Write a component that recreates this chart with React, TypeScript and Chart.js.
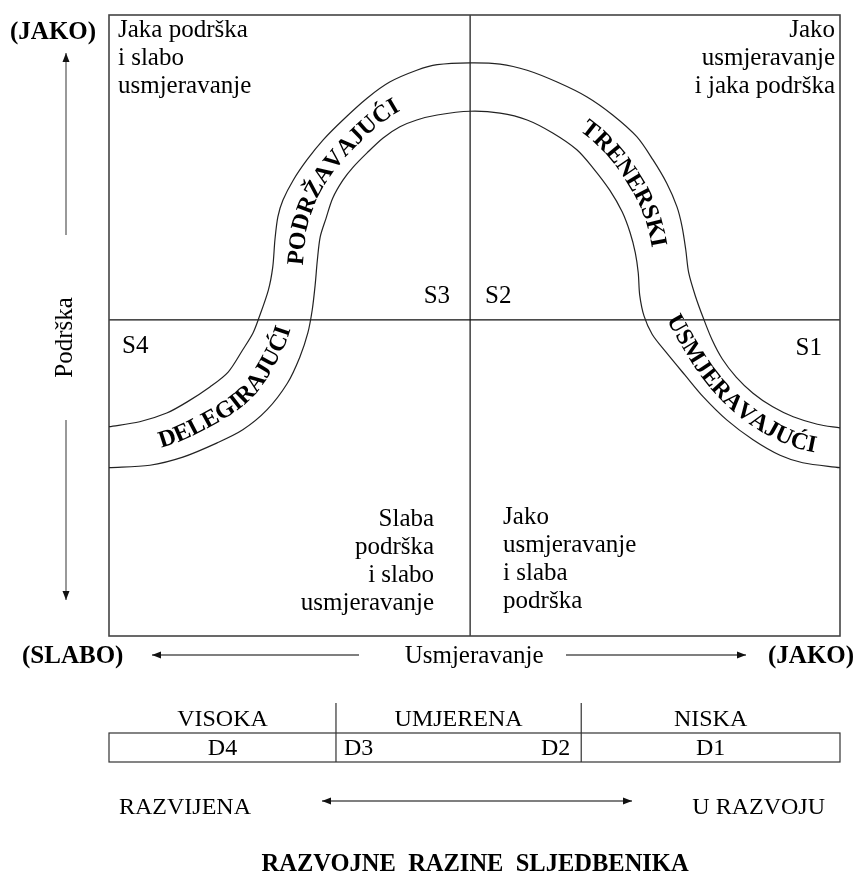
import React, { useEffect, useRef } from "react";
import { Chart, registerables } from "chart.js";
Chart.register(...registerables);

// Data space: x = Usmjeravanje (0..100), y = Podrška (0..100)
const OUTER_X = [0, 4.2, 7.9, 10.7, 13.8, 16.3, 18.3, 19.7, 20.5, 21.8, 22.4, 22.7, 23.1, 23.8, 25.2, 27.1, 29.3, 32.0, 35.3, 38.4, 42.1, 44.9, 49.4, 53.5, 57.2, 61.3, 65.4, 68.9, 72.2, 74.4, 76.3, 77.7, 78.4, 78.9, 79.3, 80.2, 81.3, 82.5, 83.9, 85.8, 88.1, 90.8, 93.6, 96.9, 100];
const OUTER_Y = [33.7, 34.5, 35.9, 37.7, 40.1, 42.5, 46.1, 48.8, 51.2, 55.7, 59.4, 63.8, 67.5, 70.2, 73.4, 76.7, 79.9, 83.1, 86.6, 89.2, 91.1, 92.0, 92.3, 92.1, 91.1, 89.2, 86.8, 83.9, 80.4, 76.7, 72.9, 69.1, 65.9, 62.2, 58.5, 54.8, 51.2, 47.7, 44.6, 41.7, 39.1, 36.9, 35.3, 34.1, 33.5];
const INNER_X = [0, 5.6, 10.1, 14.8, 18.3, 21.6, 24.4, 26.1, 27.2, 27.8, 28.2, 28.5, 28.9, 29.7, 30.6, 32.0, 33.4, 35.3, 37.5, 39.8, 42.1, 44.9, 49.4, 53.5, 57.2, 60.7, 64.0, 66.2, 68.5, 70.2, 71.3, 72.0, 72.4, 72.6, 73.2, 74.3, 76.2, 78.8, 81.3, 84.5, 88.1, 91.8, 94.9, 100];
const INNER_Y = [27.1, 27.5, 28.8, 31.1, 33.2, 36.4, 40.7, 44.9, 48.8, 52.5, 56.5, 60.5, 64.3, 67.3, 70.5, 73.4, 75.5, 77.8, 80.2, 82.0, 83.1, 83.9, 84.5, 84.2, 83.1, 81.0, 78.3, 75.4, 71.8, 68.3, 64.9, 61.7, 58.5, 54.9, 51.5, 48.6, 45.7, 42.0, 38.5, 34.8, 31.6, 29.1, 27.9, 27.1];

const DIVIDE_X = 49.4;
const DIVIDE_Y = 50.9;

const STYLE_LABELS = ["DELEGIRAJUĆI", "PODRŽAVAJUĆI", "TRENERSKI", "USMJERAVAJUĆI"];
const STYLE_ANCHOR_X = [17.4, 30.5, 71.3, 84.2];
const STYLE_ANCHOR_Y = [38.3, 74.1, 73.4, 37.2];

const STYLE_CODES = ["S4", "S3", "S2", "S1"];

const TEXT_TOP_LEFT = ["Jaka podrška", "i slabo", "usmjeravanje"];
const TEXT_TOP_RIGHT = ["Jako", "usmjeravanje", "i jaka podrška"];
const TEXT_BOTTOM_LEFT = ["Slaba", "podrška", "i slabo", "usmjeravanje"];
const TEXT_BOTTOM_RIGHT = ["Jako", "usmjeravanje", "i slaba", "podrška"];

const AXIS_Y_TITLE = "Podrška";
const AXIS_X_TITLE = "Usmjeravanje";
const AXIS_HIGH = "(JAKO)";
const AXIS_LOW = "(SLABO)";

const LEVEL_HEADERS = ["VISOKA", "UMJERENA", "NISKA"];
const LEVEL_BOUNDS = [0, 31.05, 64.6, 100];
const LEVEL_CODES = ["D4", "D3", "D2", "D1"];
const DEV_LEFT = "RAZVIJENA";
const DEV_RIGHT = "U RAZVOJU";
const DEV_TITLE = "RAZVOJNE  RAZINE  SLJEDBENIKA";

const FONT = "'Liberation Serif', 'Times New Roman', serif";

function txt(ctx: CanvasRenderingContext2D, s: string, x: number, y: number, size: number, opts: any = {}) {
  ctx.save();
  ctx.font = `${opts.bold ? "bold " : ""}${size}px ${FONT}`;
  ctx.fillStyle = opts.color || "#000";
  ctx.textAlign = opts.align || "left";
  ctx.textBaseline = "alphabetic";
  ctx.translate(x, y);
  if (opts.rot) ctx.rotate(opts.rot);
  ctx.scale(opts.sx || 1, 1);
  ctx.fillText(s, 0, 0);
  ctx.restore();
}

function arrow(ctx: CanvasRenderingContext2D, x1: number, y1: number, x2: number, y2: number, color: string, both = false) {
  const head = 9, half = 3.5;
  ctx.save();
  ctx.strokeStyle = color;
  ctx.lineWidth = 1.2;
  ctx.beginPath();
  ctx.moveTo(x1, y1);
  ctx.lineTo(x2, y2);
  ctx.stroke();
  ctx.fillStyle = "#111";
  const drawHead = (fx: number, fy: number, tx: number, ty: number) => {
    const a = Math.atan2(ty - fy, tx - fx);
    ctx.beginPath();
    ctx.moveTo(tx, ty);
    ctx.lineTo(tx - head * Math.cos(a) + half * Math.sin(a), ty - head * Math.sin(a) - half * Math.cos(a));
    ctx.lineTo(tx - head * Math.cos(a) - half * Math.sin(a), ty - head * Math.sin(a) + half * Math.cos(a));
    ctx.closePath();
    ctx.fill();
  };
  drawHead(x1, y1, x2, y2);
  if (both) drawHead(x2, y2, x1, y1);
  ctx.restore();
}

function sampleBezier(pts: any[], steps = 30) {
  const out: { x: number; y: number }[] = [];
  for (let i = 0; i < pts.length - 1; i++) {
    const a = pts[i], b = pts[i + 1];
    const c1x = a.cp2x ?? a.x, c1y = a.cp2y ?? a.y, c2x = b.cp1x ?? b.x, c2y = b.cp1y ?? b.y;
    for (let k = 0; k < steps; k++) {
      const t = k / steps, u = 1 - t;
      out.push({
        x: u * u * u * a.x + 3 * u * u * t * c1x + 3 * u * t * t * c2x + t * t * t * b.x,
        y: u * u * u * a.y + 3 * u * u * t * c1y + 3 * u * t * t * c2y + t * t * t * b.y,
      });
    }
  }
  const l = pts[pts.length - 1];
  out.push({ x: l.x, y: l.y });
  return out;
}

function smooth(arr: { x: number; y: number }[], w: number) {
  return arr.map((_, i) => {
    let sx = 0, sy = 0, n = 0;
    for (let k = -w; k <= w; k++) {
      const q = arr[Math.min(arr.length - 1, Math.max(0, i + k))];
      sx += q.x; sy += q.y; n++;
    }
    return { x: sx / n, y: sy / n };
  });
}

function cumLen(arr: { x: number; y: number }[]) {
  const cum = [0];
  for (let i = 1; i < arr.length; i++) cum.push(cum[i - 1] + Math.hypot(arr[i].x - arr[i - 1].x, arr[i].y - arr[i - 1].y));
  return cum;
}

function pointAt(arr: { x: number; y: number }[], cum: number[], s: number) {
  if (s <= 0) return arr[0];
  for (let i = 1; i < arr.length; i++) {
    if (cum[i] >= s) {
      const seg = cum[i] - cum[i - 1] || 1;
      const t = (s - cum[i - 1]) / seg;
      return { x: arr[i - 1].x + (arr[i].x - arr[i - 1].x) * t, y: arr[i - 1].y + (arr[i].y - arr[i - 1].y) * t };
    }
  }
  return arr[arr.length - 1];
}

const CURVE_FONT = 24;

const diagramPlugin = {
  id: "diagram",
  beforeDatasetsDraw(chart: any) {
    const { ctx, chartArea: ca, scales } = chart;
    const cx = scales.x.getPixelForValue(DIVIDE_X);
    const cy = scales.y.getPixelForValue(DIVIDE_Y);
    ctx.save();
    ctx.strokeStyle = "#111";
    ctx.lineWidth = 1.2;
    ctx.beginPath();
    ctx.moveTo(cx, ca.top);
    ctx.lineTo(cx, ca.bottom);
    ctx.moveTo(ca.left, cy);
    ctx.lineTo(ca.right, cy);
    ctx.stroke();
    ctx.strokeStyle = "#444";
    ctx.lineWidth = 1.6;
    ctx.strokeRect(ca.left, ca.top, ca.right - ca.left, ca.bottom - ca.top);
    ctx.restore();
  },
  afterDraw(chart: any) {
    const { ctx, chartArea: ca, scales } = chart;
    const L = ca.left, R = ca.right, T = ca.top, B = ca.bottom;
    const cx = scales.x.getPixelForValue(DIVIDE_X);
    const cy = scales.y.getPixelForValue(DIVIDE_Y);
    const F = 25, LH = 28;

    // quadrant texts
    TEXT_TOP_LEFT.forEach((s, i) => txt(ctx, s, L + 9, T + 22 + i * LH, F));
    TEXT_TOP_RIGHT.forEach((s, i) => txt(ctx, s, R - 5, T + 22 + i * LH, F, { align: "right" }));
    TEXT_BOTTOM_LEFT.forEach((s, i) => txt(ctx, s, cx - 36, B - 110 + i * LH, F, { align: "right" }));
    TEXT_BOTTOM_RIGHT.forEach((s, i) => txt(ctx, s, cx + 33, B - 112 + i * LH, F));

    // style codes
    txt(ctx, STYLE_CODES[0], L + 13, cy + 33, F);
    txt(ctx, STYLE_CODES[1], cx - 20, cy - 17, F, { align: "right" });
    txt(ctx, STYLE_CODES[2], cx + 15, cy - 17, F);
    txt(ctx, STYLE_CODES[3], R - 18, cy + 35, F, { align: "right" });

    // curved style labels along the band (text on a baseline path)
    const outer = sampleBezier(chart.getDatasetMeta(0).data);
    const inner = sampleBezier(chart.getDatasetMeta(1).data);
    let center = outer.map((o) => {
      let best = inner[0], bd = Infinity;
      for (const p of inner) {
        const d = (p.x - o.x) ** 2 + (p.y - o.y) ** 2;
        if (d < bd) { bd = d; best = p; }
      }
      return { x: (o.x + best.x) / 2, y: (o.y + best.y) / 2 };
    });
    center = smooth(center, 5);
    const capH = CURVE_FONT * 0.66;
    let base = center.map((p, i) => {
      const a = center[Math.max(0, i - 4)], b = center[Math.min(center.length - 1, i + 4)];
      const th = Math.atan2(b.y - a.y, b.x - a.x);
      return { x: p.x - Math.sin(th) * capH / 2, y: p.y + Math.cos(th) * capH / 2 };
    });
    base = smooth(base, 3);
    const cum = cumLen(base);
    ctx.save();
    ctx.font = `bold ${CURVE_FONT}px ${FONT}`;
    ctx.fillStyle = "#000";
    ctx.textAlign = "center";
    ctx.textBaseline = "alphabetic";
    STYLE_LABELS.forEach((label, li) => {
      const ax = scales.x.getPixelForValue(STYLE_ANCHOR_X[li]);
      const ay = scales.y.getPixelForValue(STYLE_ANCHOR_Y[li]);
      let bj = 0, bd = Infinity;
      base.forEach((p, j) => {
        const d = (p.x - ax) ** 2 + (p.y - ay) ** 2;
        if (d < bd) { bd = d; bj = j; }
      });
      const s0 = cum[bj];
      const chars = Array.from(label);
      const widths = chars.map((c) => ctx.measureText(c).width);
      const total = widths.reduce((a, b) => a + b, 0);
      let s = s0 - total / 2;
      chars.forEach((c, k) => {
        const sc = s + widths[k] / 2;
        const p = pointAt(base, cum, sc);
        const p1 = pointAt(base, cum, sc - 5), p2 = pointAt(base, cum, sc + 5);
        const ang = Math.atan2(p2.y - p1.y, p2.x - p1.x);
        ctx.save();
        ctx.translate(p.x, p.y);
        ctx.rotate(ang);
        ctx.fillText(c, 0, 0);
        ctx.restore();
        s += widths[k];
      });
    });
    ctx.restore();

    // vertical axis
    txt(ctx, AXIS_HIGH, L - 99, T + 24, F, { bold: true });
    txt(ctx, AXIS_Y_TITLE, L - 37, (T + B) / 2 + 12, 25, { align: "center", rot: -Math.PI / 2 });
    arrow(ctx, L - 43, 235, L - 43, 53, "#555");
    arrow(ctx, L - 43, 420, L - 43, 600, "#555");

    // horizontal axis
    const ay = B + 19;
    txt(ctx, AXIS_LOW, L - 87, B + 27, F, { bold: true });
    txt(ctx, AXIS_HIGH, R - 72, B + 27, F, { bold: true });
    txt(ctx, AXIS_X_TITLE, cx + 4, B + 27, F, { align: "center" });
    arrow(ctx, 359, ay, 152, ay, "#000");
    arrow(ctx, 566, ay, 746, ay, "#000");

    // development levels table
    const bx = LEVEL_BOUNDS.map((v) => scales.x.getPixelForValue(v));
    const rowTop = 733, rowBot = 762;
    ctx.save();
    ctx.strokeStyle = "#333";
    ctx.lineWidth = 1.2;
    ctx.strokeRect(bx[0], rowTop, bx[3] - bx[0], rowBot - rowTop);
    ctx.beginPath();
    ctx.moveTo(bx[1], 703); ctx.lineTo(bx[1], rowBot);
    ctx.moveTo(bx[2], 703); ctx.lineTo(bx[2], rowBot);
    ctx.stroke();
    ctx.restore();
    const BF = 24;
    LEVEL_HEADERS.forEach((h, i) => txt(ctx, h, (bx[i] + bx[i + 1]) / 2, 726, BF, { align: "center" }));
    txt(ctx, LEVEL_CODES[0], (bx[0] + bx[1]) / 2, 755, BF, { align: "center" });
    txt(ctx, LEVEL_CODES[1], bx[1] + 8, 755, BF);
    txt(ctx, LEVEL_CODES[2], bx[2] - 11, 755, BF, { align: "right" });
    txt(ctx, LEVEL_CODES[3], (bx[2] + bx[3]) / 2, 755, BF, { align: "center" });

    txt(ctx, DEV_LEFT, L + 10, 814, BF);
    txt(ctx, DEV_RIGHT, R - 15, 814, BF, { align: "right" });
    arrow(ctx, 322, 801, 632, 801, "#000", true);
    txt(ctx, DEV_TITLE, cx + 5, 871, 24.5, { bold: true, align: "center" });
  },
};

export default function App() {
  const ref = useRef<HTMLCanvasElement | null>(null);
  useEffect(() => {
    if (!ref.current) return;
    const chart = new Chart(ref.current, {
      type: "line",
      data: {
        datasets: [
          {
            label: "outer",
            data: OUTER_X.map((x, i) => ({ x, y: OUTER_Y[i] })),
            borderColor: "#222",
            borderWidth: 1.2,
            pointRadius: 0,
            tension: 0.3,
            fill: false,
          },
          {
            label: "inner",
            data: INNER_X.map((x, i) => ({ x, y: INNER_Y[i] })),
            borderColor: "#222",
            borderWidth: 1.2,
            pointRadius: 0,
            tension: 0.3,
            fill: false,
          },
        ],
      },
      options: {
        animation: false,
        responsive: false,
        events: [],
        layout: { padding: { left: 109, right: 14, top: 15, bottom: 239 } },
        scales: {
          x: { type: "linear", min: 0, max: 100, display: false },
          y: { type: "linear", min: 0, max: 100, display: false },
        },
        plugins: { legend: { display: false }, tooltip: { enabled: false } },
      },
      plugins: [diagramPlugin],
    } as any);
    return () => chart.destroy();
  }, []);
  return (
    <div style={{ position: "absolute", left: 0, top: 0, width: 854, height: 875, background: "#fff" }}>
      <canvas ref={ref} width={854} height={875} style={{ display: "block" }} />
    </div>
  );
}
